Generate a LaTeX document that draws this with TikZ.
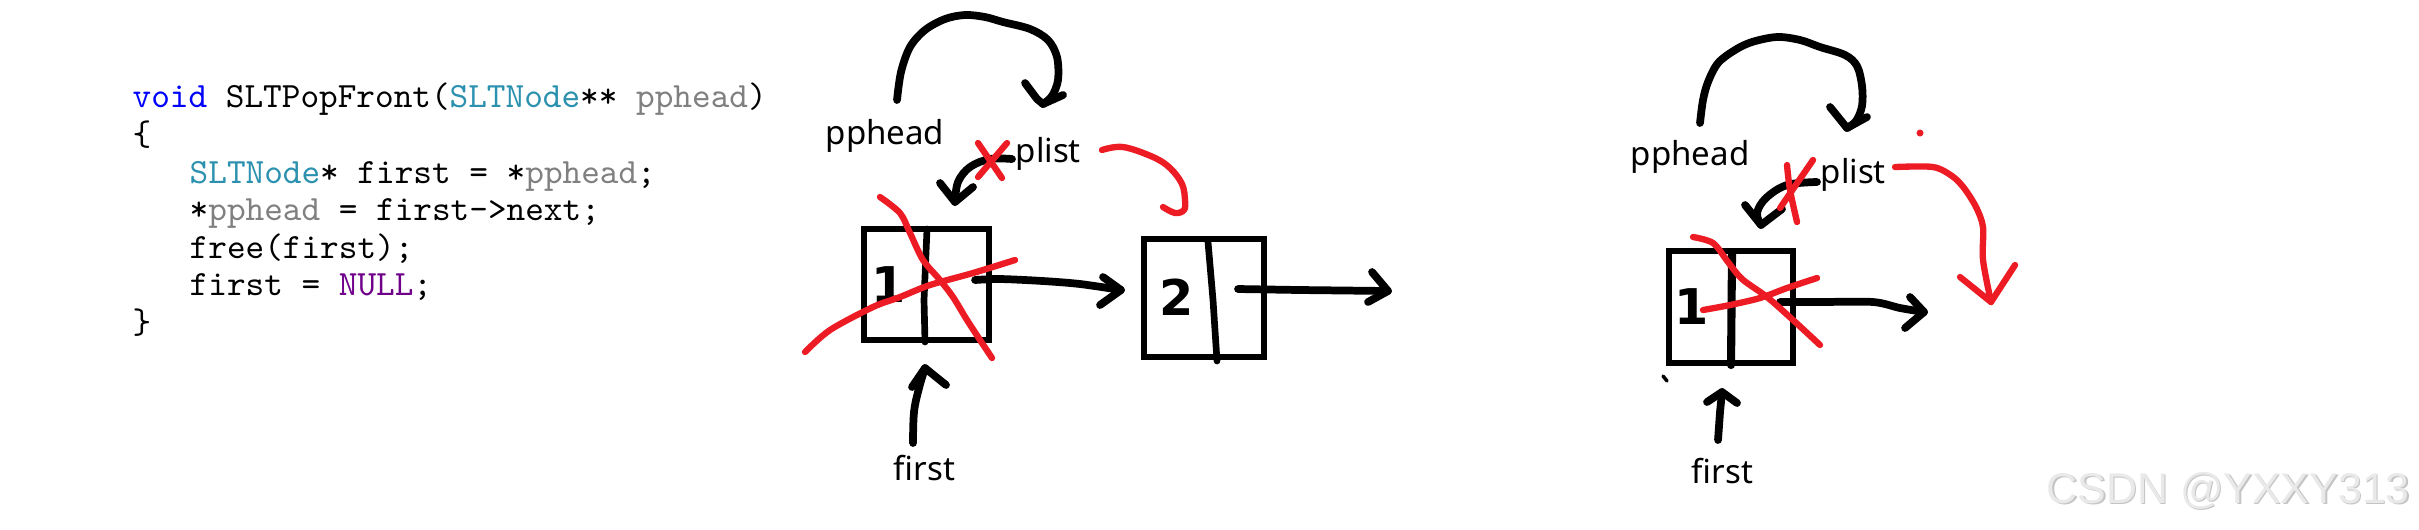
\documentclass[tikz,border=0pt]{standalone}
\usepackage{fontspec}
\setmainfont{Noto Sans}
\newfontfamily\wmfont{Liberation Sans}
\newfontfamily\digfont{DejaVu Sans}
\definecolor{kwblue}{RGB}{0,0,255}
\definecolor{tyteal}{RGB}{43,145,175}
\definecolor{pgray}{RGB}{128,128,128}
\definecolor{nullpurple}{RGB}{111,0,138}
\definecolor{pred}{RGB}{237,28,36}
\definecolor{wmlight}{RGB}{233,233,233}
\definecolor{wmdark}{RGB}{196,196,196}
\tikzset{
  hand/.style={line width=2.2pt, line cap=round, line join=round},
  redhand/.style={draw=pred, line width=1.8pt, line cap=round, line join=round},
  boxnode/.style={draw, rectangle, line width=1.9pt, inner sep=0pt},
  lbl/.style={font=\fontsize{9.4}{11}\selectfont, anchor=base west, inner sep=0pt},
  digit/.style={font=\digfont\bfseries\fontsize{14}{16}\selectfont, inner sep=0pt},
  codeline/.style={font=\ttfamily\fontsize{10.1}{12}\selectfont, anchor=base west, inner sep=0pt},
}
\begin{document}
\begin{tikzpicture}[x=0.01cm, y=-0.01cm]
\useasboundingbox (0,0) rectangle (2419,529);
\fill[white] (0,0) rectangle (2419,529);

% ---------------- code ----------------
\node[codeline] (c1) at (132,107) {\textcolor{kwblue}{void} SLTPopFront(\textcolor{tyteal}{SLTNode}** \textcolor{pgray}{pphead})};
\node[codeline] (c2) at (132,145) {\{};
\node[codeline] (c3) at (189,183) {\textcolor{tyteal}{SLTNode}* first = *\textcolor{pgray}{pphead};};
\node[codeline] (c4) at (189,220) {*\textcolor{pgray}{pphead} = first->next;};
\node[codeline] (c5) at (189,258) {free(first);};
\node[codeline] (c6) at (189,295) {first = \textcolor{nullpurple}{NULL};};
\node[codeline] (c7) at (132,333) {\}};

% ---------------- middle diagram ----------------
\node[lbl] (ppheadA) at (825,144) {pphead};
\node[lbl] (plistA) at (1015,162) {plist};
\node[lbl] (firstA) at (893,480) {first};

\node[boxnode, minimum width=1.25cm, minimum height=1.11cm] (boxA1) at (926.5,284.5) {};
\node[boxnode, minimum width=1.20cm, minimum height=1.18cm] (boxA2) at (1204,298) {};
\draw[hand, line width=1.9pt] (927,229) -- (924,300) -- (925,342);
\draw[hand, line width=1.9pt] (1208,242) -- (1213,300) -- (1217,361);
\node[digit] (oneA) at (889,285) {1};
\node[digit] (twoA) at (1177,297) {2};

% pphead -> plist arc
\coordinate (arcAs) at (897,100);
\coordinate (arcAe) at (1043,104);
\draw[hand] plot[smooth, tension=0.55] coordinates {(arcAs) (901,72) (910,47) (925,30) (945,19) (965,15) (985,17) (1003,22) (1030,29) (1048,40) (1057,57) (1058,80) (1052,96) (arcAe)};
\draw[hand] (1025,83) -- (1037,99) -- (arcAe) -- (1063,95);

% plist -> box1 (crossed)
\coordinate (pAs) at (1012,159);
\coordinate (pAe) at (955,202);
\draw[hand] plot[smooth, tension=0.6] coordinates {(pAs) (990,159) (970,167) (958,182) (pAe)};
\draw[hand] (940,183) -- (pAe) -- (973,187);
\draw[redhand] (978,143) -- (1002,178);
\draw[redhand] (1007,143) -- (978,177);

% plist -> box2 (red)
\draw[redhand] plot[smooth, tension=0.6] coordinates {(1102,150) (1123,147) (1153,157) (1170,168) (1182,184) (1185,200) (1184,210) (1175,213) (1163,207)};

% box1 -> box2
\coordinate (aAs) at (975,280);
\coordinate (aAe) at (1121,290);
\draw[hand] plot[smooth, tension=0.5] coordinates {(aAs) (1000,279) (1043,281) (1080,284) (aAe)};
\draw[hand] (1103,277) -- (aAe) -- (1100,305);

% box2 -> next
\coordinate (bAs) at (1238,289);
\coordinate (bAe) at (1388,291);
\draw[hand] (bAs) -- (1300,290) -- (bAe);
\draw[hand] (1372,272) -- (bAe) -- (1368,302);

% first -> box1
\coordinate (fAs) at (913,443);
\coordinate (fAe) at (925,368);
\draw[hand] plot[smooth, tension=0.6] coordinates {(fAs) (914,412) (919,388) (fAe)};
\draw[hand] (912,387) -- (fAe) -- (946,385);

% red cross over box1
\draw[redhand] plot[smooth, tension=0.5] coordinates {(880,197) (900,213) (910,233) (923,260) (940,280) (953,297) (967,320) (982,343) (992,358)};
\draw[redhand] plot[smooth, tension=0.5] coordinates {(805,352) (830,330) (873,307) (900,297) (930,285) (973,273) (1015,260)};

% ---------------- right diagram ----------------
\node[lbl] (ppheadB) at (1630,165) {pphead};
\node[lbl] (plistB) at (1820,183) {plist};
\node[lbl] (firstB) at (1691,483) {first};

\node[boxnode, minimum width=1.24cm, minimum height=1.12cm] (boxB1) at (1731,307) {};
\draw[hand, line width=2.3pt] (1732,254) -- (1731,365);
\node[digit] (oneB) at (1692,307) {1};
\draw[line width=1pt, line cap=round] (1663,376) -- (1667,381);

% pphead -> plist arc
\coordinate (arcBs) at (1700,123);
\coordinate (arcBe) at (1847,128);
\draw[hand] plot[smooth, tension=0.55] coordinates {(arcBs) (1703,100) (1708,82) (1718,63) (1735,50) (1752,42) (1777,37) (1800,40) (1820,47) (1845,55) (1857,66) (1862,86) (1862,106) (1856,121) (arcBe)};
\draw[hand] (1830,107) -- (arcBe) -- (1867,117);

% plist -> box (crossed)
\coordinate (pBs) at (1817,182);
\coordinate (pBe) at (1761,225);
\draw[hand] plot[smooth, tension=0.6] coordinates {(pBs) (1787,185) (1766,198) (1757,213) (pBe)};
\draw[hand] (1745,205) -- (pBe) -- (1782,209);
\draw[redhand] plot[smooth, tension=0.6] coordinates {(1787,165) (1790,190) (1797,222)};
\draw[redhand] (1813,160) -- (1780,208);

% red dot
\fill[pred] (1920,133) circle (3.5);

% plist -> (new first) red arrow
\coordinate (rBe) at (1991,302);
\draw[redhand] plot[smooth, tension=0.5] coordinates {(1895,167) (1933,167) (1952,176) (1964,188) (1976,207) (1983,227) (1983,260) (rBe)};
\draw[redhand] (1960,277) -- (rBe) -- (2015,265);

% box -> next
\coordinate (aBs) at (1780,302);
\coordinate (aBe) at (1924,312);
\draw[hand] plot[smooth, tension=0.5] coordinates {(aBs) (1820,302) (1873,302) (1900,308) (aBe)};
\draw[hand] (1910,297) -- (aBe) -- (1905,328);

% first -> box
\coordinate (fBs) at (1718,440);
\coordinate (fBe) at (1722,392);
\draw[hand] (fBs) -- (1720,412) -- (fBe);
\draw[hand] (1707,402) -- (fBe) -- (1737,403);

% red cross over box
\draw[redhand] plot[smooth, tension=0.5] coordinates {(1693,237) (1713,243) (1728,262) (1742,279) (1767,297) (1793,320) (1820,345)};
\draw[redhand] plot[smooth, tension=0.5] coordinates {(1703,310) (1730,305) (1760,298) (1787,288) (1817,278)};

% ---------------- watermark ----------------
\node[font=\wmfont\fontsize{12.2}{14}\selectfont, text=wmdark, anchor=base west, inner sep=0pt] (wmshadow) at (2047.5,504.5) {CSDN @YXXY313};
\node[font=\wmfont\fontsize{12.2}{14}\selectfont, text=wmlight, anchor=base west, inner sep=0pt] (wm) at (2046,503) {CSDN @YXXY313};
\end{tikzpicture}
\end{document}
